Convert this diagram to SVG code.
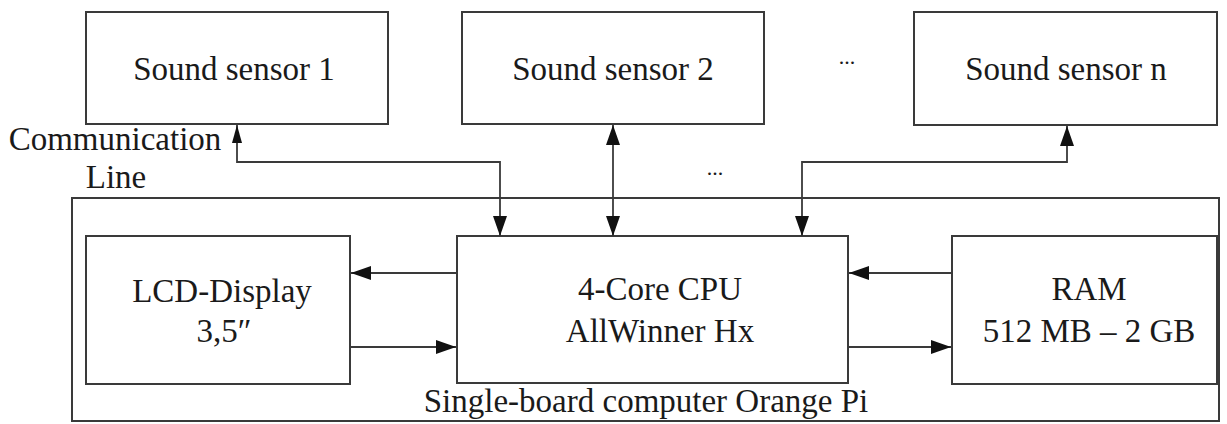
<svg xmlns="http://www.w3.org/2000/svg" width="1227" height="424" viewBox="0 0 1227 424">
<style>
.box{fill:none;stroke:#3a3a3a;stroke-width:2}
.ln{fill:none;stroke:#3a3a3a;stroke-width:1.8}
text{font-family:'Liberation Serif','DejaVu Serif',serif;font-size:33px;fill:#1a1a1a;text-anchor:middle}
.dots{font-size:22px}
</style>
<defs>
<marker id="ah" viewBox="0 0 20 14" refX="20" refY="7" markerWidth="20" markerHeight="14" markerUnits="userSpaceOnUse" orient="auto-start-reverse">
<path d="M0,0 L20,7 L0,14 Z" fill="#111"/>
</marker>
<marker id="ahs" viewBox="0 0 18 10" refX="18" refY="5" markerWidth="18" markerHeight="10" markerUnits="userSpaceOnUse" orient="auto-start-reverse">
<path d="M0,0 L18,5 L0,10 Z" fill="#111"/>
</marker>
</defs>
<rect width="1227" height="424" fill="#fff"/>
<g id="board">
<rect class="box" x="72" y="198" width="1147" height="223"/>
<text x="646" y="412">Single-board computer Orange Pi</text>
</g>
<g id="sensor1">
<rect class="box" x="86" y="12" width="302" height="112"/>
<text x="234" y="80">Sound sensor 1</text>
</g>
<g id="sensor2">
<rect class="box" x="462" y="12" width="302" height="112"/>
<text x="613" y="80">Sound sensor 2</text>
</g>
<g id="sensorn">
<rect class="box" x="914" y="12" width="303" height="113"/>
<text x="1066" y="80">Sound sensor n</text>
</g>
<g id="lcd">
<rect class="box" x="86" y="236" width="264" height="148"/>
<text x="222" y="302">LCD-Display</text>
<text x="224" y="342">3,5″</text>
</g>
<g id="cpu">
<rect class="box" x="457" y="236" width="391" height="147"/>
<text x="660" y="300">4-Core CPU</text>
<text x="660" y="342">AllWinner Hx</text>
</g>
<g id="ram">
<rect class="box" x="952" y="236" width="265" height="148"/>
<text x="1089" y="300">RAM</text>
<text x="1089" y="342">512 MB – 2 GB</text>
</g>
<g id="labels">
<text x="115" y="150">Communication</text>
<text x="116" y="188">Line</text>
<text class="dots" x="847" y="64">...</text>
<text class="dots" x="715" y="175">...</text>
</g>
<g id="connectors">
<path class="ln" d="M500,162 L237,162 L237,125" marker-end="url(#ahs)"/>
<path class="ln" d="M237,162 L500,162 L500,236" marker-end="url(#ah)"/>
<path class="ln" d="M613,125 L613,236" marker-start="url(#ah)" marker-end="url(#ah)"/>
<path class="ln" d="M802,162 L1067,162 L1067,126" marker-end="url(#ah)"/>
<path class="ln" d="M1067,162 L802,162 L802,236" marker-end="url(#ah)"/>
<path class="ln" d="M457,273 L351,273" marker-end="url(#ah)"/>
<path class="ln" d="M350,347 L456,347" marker-end="url(#ah)"/>
<path class="ln" d="M952,273 L849,273" marker-end="url(#ah)"/>
<path class="ln" d="M848,347 L951,347" marker-end="url(#ah)"/>
</g>
</svg>
